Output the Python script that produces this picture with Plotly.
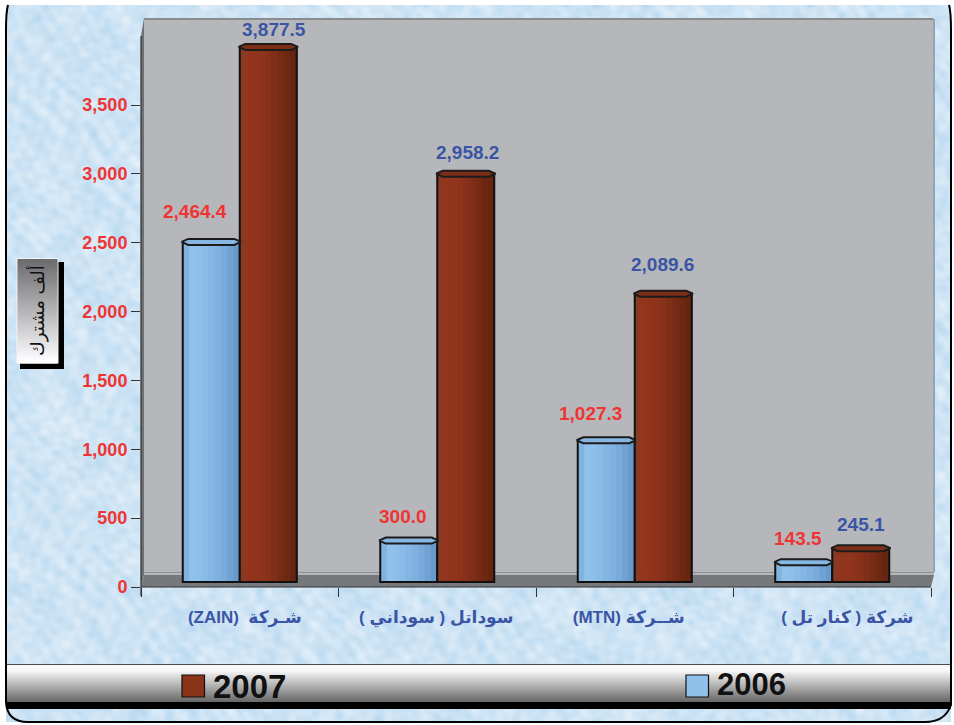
import base64, struct, zlib
import numpy as np
import plotly.graph_objects as go

# ---- data ----
categories = ["\u202Bشـركة  (ZAIN)\u202C", "\u202Bسوداتل ( سوداني )\u202C", "\u202Bشــركة (MTN)\u202C", "\u202Bشركة ( كنار تل )\u202C"]
values_2006 = [2464.4, 300.0, 1027.3, 143.5]
values_2007 = [3877.5, 2958.2, 2089.6, 245.1]
y_ticks = [0, 500, 1000, 1500, 2000, 2500, 3000, 3500]
axis_title = "ألف مشترك"

# ---- styling ----
W, H = 954, 725
FONT = "Liberation Sans, Arial, DejaVu Sans, sans-serif"
RED_TXT, BLUE_TXT = "#ef3434", "#3b55a5"
BLUE_STRIPS = ["#80b3e0", "#8fc1ea", "#8dbfe9", "#89bbe7", "#84b6e4", "#7fb1e0", "#78abdb", "#70a2d3", "#679aca"]
RED_STRIPS = ["#8a3a22", "#93351d", "#91341c", "#8e331b", "#88311a", "#7f2e18", "#772b15", "#6e2812", "#662510"]
LBL_2006 = [(-16, 30), (-6, 24), (-16, 27), (-6, 24)]
LBL_2007 = [(6, 17), (2, 21), (-1, 29), (0, 24)]
CAT_LABEL_SHIFT_PX = [5, -1, -6, 15]


def px(x):
    return x / W


def py(y):
    return 1 - y / H


def texture_uri():
    h, w = 717, 945
    yy, xx = np.mgrid[0:h, 0:w].astype(float)
    t = np.zeros((h, w))
    for fx, fy, ph, a in [(0.031, 0.017, 0.4, 0.35), (0.013, 0.043, 1.9, 0.35), (0.071, 0.053, 2.7, 0.5),
                          (0.097, -0.083, 0.9, 0.6), (-0.149, 0.121, 4.1, 0.7), (0.211, 0.173, 1.3, 0.7),
                          (-0.283, 0.239, 3.3, 0.6), (0.353, -0.311, 5.2, 0.5), (0.433, 0.197, 2.2, 0.45),
                          (-0.127, 0.467, 0.7, 0.45), (0.523, -0.149, 3.9, 0.35), (0.179, 0.587, 1.1, 0.35)]:
        warp = 2.4 * np.sin(0.037 * xx - 0.029 * yy + ph) + 1.6 * np.sin(0.051 * yy + 0.017 * xx + 2 * ph)
        t += a * np.sin(fx * xx + fy * yy + ph + warp)
    t = t / np.abs(t).max()
    rgb = np.stack([206 + 26 * t, 228 + 14 * t, 245 + 6 * t], axis=-1).clip(0, 255).astype(np.uint8)
    raw = b"".join(b"\x00" + rgb[i].tobytes() for i in range(h))

    def chunk(tag, data):
        return struct.pack(">I", len(data)) + tag + data + struct.pack(">I", zlib.crc32(tag + data))

    png = b"\x89PNG\r\n\x1a\n" + chunk(b"IHDR", struct.pack(">IIBBBBB", w, h, 8, 2, 0, 0, 0)) + \
        chunk(b"IDAT", zlib.compress(raw, 9)) + chunk(b"IEND", b"")
    return "data:image/png;base64," + base64.b64encode(png).decode()


def rect(x0, y0, x1, y1, fill, **kw):
    return dict(type="rect", xref="paper", yref="paper", x0=px(x0), x1=px(x1), y0=py(y1), y1=py(y0),
                fillcolor=fill, line=dict(width=0), layer=kw.get("layer", "below"))


def poly(points, fill=None, line=None, lw=0, layer="below"):
    d = "M " + " L ".join(f"{px(x):.5f} {py(y):.5f}" for x, y in points)
    return dict(type="path", xref="paper", yref="paper", path=d + (" Z" if fill else ""), fillcolor=fill,
                line=dict(color=line or "rgba(0,0,0,0)", width=lw), layer=layer)


shapes = []
# wall, side panel and floor of the pseudo 3D plot box
shapes.append(rect(144, 18, 934, 575, "#b6b7ba"))
shapes.append(rect(144, 18, 933, 20, "#8a8b8d"))
shapes.append(rect(933, 19, 935, 572, "#93a6b6"))
shapes.append(rect(144, 572, 934, 573, "#8f9092"))
shapes.append(poly([(141, 36), (144, 18), (144, 575), (141, 587)], fill="#6f7074"))
shapes.append(poly([(141, 587), (931, 587), (934, 575), (144, 575)], fill="#77787c"))
shapes.append(poly([(141, 36), (141, 596)], line="#333333", lw=1.2))
shapes.append(poly([(141, 587), (931, 587)], line="#333333", lw=1.2))
# axis title box
shapes.append(rect(20, 262, 64, 369, "#000000"))
shapes.append(rect(16.5, 258, 58.5, 363.5, "#f4f4f4"))
n = 52
for i in range(n):
    y0 = 259 + i * 104 / n
    v = int(108 + (255 - 108) * (i / (n - 1)))
    shapes.append(rect(17.5, y0, 57.5, y0 + 104 / n + 0.5, f"rgb({v},{v},{min(v + 2, 255)})"))
# legend band
for i in range(37):
    y0 = 665 + i
    t = max(0.0, (i - 5) / 31)
    v = int(248 - (248 - 105) * t)
    shapes.append(rect(6, y0, 951, y0 + 1.2, f"rgb({v},{v},{min(v + 1, 255)})"))
shapes.append(rect(6, 664, 951, 665, "#4a4a4c"))
shapes.append(rect(6, 702, 951, 709, "#000000"))
# frame
shapes.append(dict(type="path", xref="paper", yref="paper", layer="below",
                   path=(f"M {px(8)} {py(5)} Q {px(6)} {py(12)} {px(6)} {py(30)} L {px(6)} {py(702)} "
                         f"Q {px(7)} {py(722)} {px(28)} {py(722)} L {px(925)} {py(722)} "
                         f"Q {px(945)} {py(722)} {px(951)} {py(705)} L {px(951)} {py(30)} "
                         f"Q {px(951)} {py(12)} {px(949)} {py(5)}"),
                   line=dict(color="#000000", width=2)))
# legend swatches
for x0, col in [(182, "#8a3319"), (686, "#8fc1ea")]:
    s = rect(x0, 675, x0 + 22.5, 697, col)
    s["line"] = dict(color="#111111", width=1.2)
    shapes.append(s)

idx = list(range(len(categories)))
bar_w = 57 / 197.5
fig = go.Figure()


def add_series(vals, colors, start, outline="#111111"):
    k = len(colors)
    sw = bar_w / k
    for j, c in enumerate(colors):
        fig.add_bar(x=idx, y=vals, yaxis="y2", xaxis="x", width=[sw * 1.1] * len(vals),
                    offset=[start + j * sw] * len(vals), marker=dict(color=c, line=dict(width=0)),
                    showlegend=False, hoverinfo="skip")
    fig.add_bar(x=idx, y=vals, yaxis="y2", xaxis="x", width=[bar_w] * len(vals), offset=[start] * len(vals),
                marker=dict(color="rgba(0,0,0,0)", line=dict(color=outline, width=2)), showlegend=False)


def add_caps(vals, start, fill):
    dx, dy = 5.5 / 197.5, 3 / 0.138
    xs, ys = [], []
    for i, v in zip(idx, vals):
        l, r = i + start, i + start + bar_w
        xs += [l - 0.006, l + dx, r - dx, r + 0.006, r - dx, l + dx, l - 0.006, None]
        ys += [v, v + dy, v + dy, v, v - dy, v - dy, v, None]
    fig.add_scatter(x=xs, y=ys, xaxis="x", yaxis="y2", mode="lines", fill="toself", fillcolor=fill,
                    line=dict(color="#1c1c1c", width=2), showlegend=False, hoverinfo="skip", cliponaxis=False)


add_series(values_2006, BLUE_STRIPS, -bar_w)
add_series(values_2007, RED_STRIPS, 0)
add_caps(values_2006, -bar_w, "#86b7e2")
add_caps(values_2007, 0, "#7d2e16")
# invisible trace that carries the category label axis
fig.add_scatter(x=idx, y=[0] * 4, xaxis="x2", yaxis="y", mode="markers", marker=dict(opacity=0), showlegend=False,
                hoverinfo="skip")

annotations = []
for i in idx:
    dx, dy = LBL_2006[i]
    annotations.append(dict(x=i - bar_w / 2, y=values_2006[i], xref="x", yref="y2", text=f"{values_2006[i]:,.1f}",
                            showarrow=False, xshift=dx, yshift=dy, yanchor="middle", xanchor="center",
                            font=dict(family=FONT, size=19, color=RED_TXT, weight=700)))
    dx, dy = LBL_2007[i]
    annotations.append(dict(x=i + bar_w / 2, y=values_2007[i], xref="x", yref="y2", text=f"{values_2007[i]:,.1f}",
                            showarrow=False, xshift=dx, yshift=dy, yanchor="middle", xanchor="center",
                            font=dict(family=FONT, size=19, color=BLUE_TXT, weight=700)))
annotations.append(dict(x=px(37), y=py(311), xref="paper", yref="paper", text=axis_title, textangle=-90, showarrow=False,
                        xanchor="center", yanchor="middle",
                        font=dict(family="DejaVu Sans, Liberation Serif, serif", size=18, color="#111111")))
annotations.append(dict(x=px(249.5), y=py(686), xref="paper", yref="paper", text="2007", showarrow=False,
                        xanchor="center", yanchor="middle",
                        font=dict(family=FONT, size=33, color="#111111", weight=700)))
annotations.append(dict(x=px(751.5), y=py(684), xref="paper", yref="paper", text="2006", showarrow=False,
                        xanchor="center", yanchor="middle",
                        font=dict(family=FONT, size=31, color="#111111", weight=700)))

zero_px, scale = 5, 0.138  # y2 is the same scale, lifted onto the floor of the box
y2_low = -zero_px / scale
y2_high = y2_low + (587 - 36) / scale
fig.update_layout(
    width=W, height=H, autosize=False, margin=dict(l=0, r=0, t=0, b=0, autoexpand=False), paper_bgcolor="#ffffff",
    plot_bgcolor="rgba(0,0,0,0)", barmode="overlay", showlegend=False, shapes=shapes, annotations=annotations,
    images=[dict(source=texture_uri(), xref="paper", yref="paper", x=px(6), y=py(5), sizex=px(945), sizey=717 / H,
                 sizing="stretch", xanchor="left", yanchor="top", layer="below")],
    xaxis=dict(domain=[px(141), px(931)], range=[-0.5, 3.5], tickvals=[-0.5, 0.5, 1.5, 2.5, 3.5], ticks="outside",
               ticklen=9, tickwidth=1.2, tickcolor="#333333", showticklabels=False, showgrid=False, zeroline=False,
               anchor="y"),
    xaxis2=dict(domain=[px(141), px(931)], range=[-0.5, 3.5], overlaying="x", anchor="y", side="bottom",
                tickvals=[i + s / 197.5 for i, s in zip(idx, CAT_LABEL_SHIFT_PX)],
                ticktext=categories, ticks="", showgrid=False, zeroline=False, ticklabelstandoff=18,
                tickfont=dict(family=FONT, size=17, color=BLUE_TXT, weight=700)),
    yaxis=dict(domain=[py(587), py(36)], range=[0, (587 - 36) / 0.1377], tickvals=y_ticks, tickformat=",",
               ticks="outside", ticklen=9, tickwidth=1.2, tickcolor="#333333", showgrid=False, zeroline=False,
               anchor="x", tickfont=dict(family=FONT, size=18, color=RED_TXT, weight=700)),
    yaxis2=dict(domain=[py(587), py(36)], range=[y2_low, y2_high], overlaying="y", visible=False, anchor="x"),
)
fig.write_html("out.html", config={"displayModeBar": False},
               post_script="document.body.style.margin='0';document.body.style.overflow='hidden';")
